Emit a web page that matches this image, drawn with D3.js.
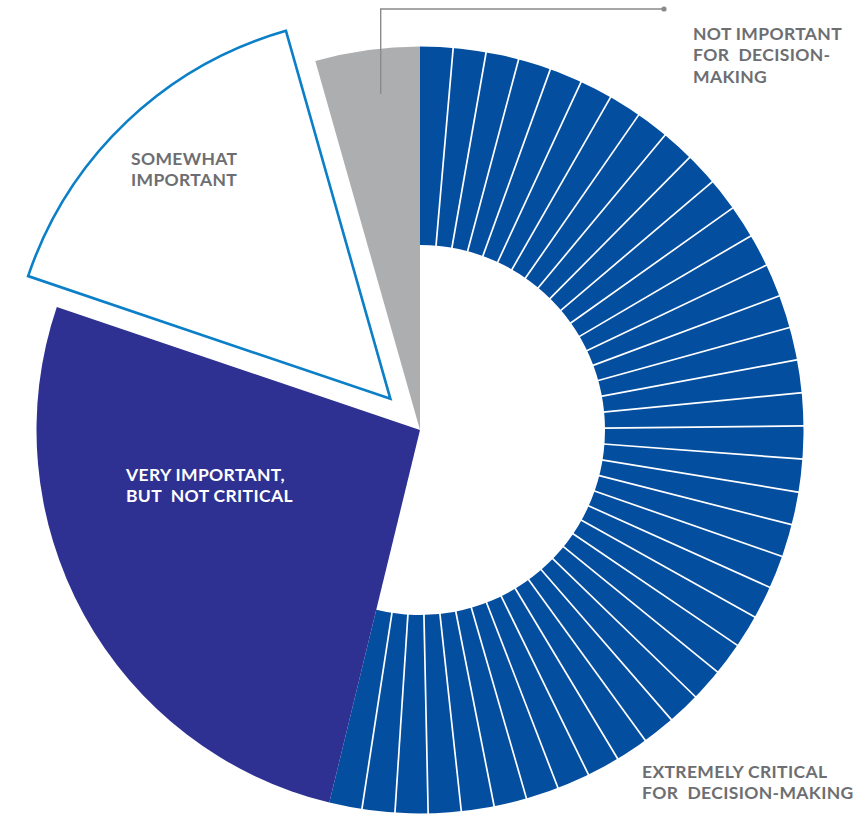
<!DOCTYPE html>
<html>
<head>
<meta charset="utf-8">
<script src="https://cdn.jsdelivr.net/npm/d3@7"></script>
<style>
  html, body { margin: 0; padding: 0; background: #fff; }
  svg { display: block; }
  text { font-family: Lato, "Open Sans", sans-serif; font-weight: 700; white-space: pre; letter-spacing: 0.35px; }
</style>
</head>
<body>
<svg id="chart" width="861" height="815"></svg>
<script>
// Survey answers: how important is the data for decision-making (share of respondents, %)
const categories = [
  "Extremely critical for decision-making",
  "Very important, but not critical",
  "Somewhat important",
  "Not important for decision-making"
];
const shares = [53.8, 26.4, 15.4, 4.4];
const labelLines = [
  ["EXTREMELY CRITICAL", "FOR  DECISION-MAKING"],
  ["VERY IMPORTANT,", "BUT  NOT CRITICAL"],
  ["SOMEWHAT", "IMPORTANT"],
  ["NOT IMPORTANT", "FOR  DECISION-", "MAKING"]
];

// Layout and styling
const cx = 420, cy = 430;
const outerR = 383.5, ringInnerR = 185;
const explode = 43;
const stripeCount = 39;
const colors = {
  critical: "#044ea0",
  very: "#2e3192",
  somewhatStroke: "#0b7fc7",
  not: "#adaeb0",
  label: "#6d6e71",
  leader: "#8a8a8c"
};

const svg = d3.select("#chart");
svg.append("rect").attr("width", 861).attr("height", 815).attr("fill", "#fff");

const data = categories.map((c, i) => ({ category: c, value: shares[i], lines: labelLines[i] }));
const pie = d3.pie().sort(null).value(d => d.value).startAngle(0).endAngle(2 * Math.PI);
const slices = pie(data);

const g = svg.append("g").attr("transform", `translate(${cx},${cy})`);

// 1. Extremely critical: ring cut into thin radial stripes
const sCrit = slices[0];
g.append("path")
  .attr("d", d3.arc().innerRadius(ringInnerR).outerRadius(outerR)(sCrit))
  .attr("fill", colors.critical);
const stripeAngle = d3.scaleLinear()
  .domain([0, stripeCount])
  .range([sCrit.startAngle, sCrit.endAngle]);
g.append("g").selectAll("line")
  .data(d3.range(1, stripeCount))
  .join("line")
  .attr("x1", k => (ringInnerR - 1) * Math.sin(stripeAngle(k)))
  .attr("y1", k => -(ringInnerR - 1) * Math.cos(stripeAngle(k)))
  .attr("x2", k => (outerR + 1) * Math.sin(stripeAngle(k)))
  .attr("y2", k => -(outerR + 1) * Math.cos(stripeAngle(k)))
  .attr("stroke", "#fff")
  .attr("stroke-width", 1.7);

// 2. Very important: solid wedge
g.append("path")
  .attr("d", d3.arc().innerRadius(0).outerRadius(outerR)(slices[1]))
  .attr("fill", colors.very);

// 3. Somewhat important: outlined wedge pulled out from the centre
const sSome = slices[2];
const midSome = (sSome.startAngle + sSome.endAngle) / 2;
g.append("path")
  .attr("transform", `translate(${explode * Math.sin(midSome)},${-explode * Math.cos(midSome)})`)
  .attr("d", d3.arc().innerRadius(0).outerRadius(outerR - 1)(sSome))
  .attr("fill", "#fff")
  .attr("stroke", colors.somewhatStroke)
  .attr("stroke-width", 2.6)
  .attr("stroke-linejoin", "miter");

// 4. Not important: grey wedge
g.append("path")
  .attr("d", d3.arc().innerRadius(0).outerRadius(outerR)(slices[3]))
  .attr("fill", colors.not);

// Leader line for the small grey wedge
svg.append("path")
  .attr("d", "M380.7,94 V9 H664")
  .attr("fill", "none")
  .attr("stroke", colors.leader)
  .attr("stroke-width", 1.4);
svg.append("circle").attr("cx", 664).attr("cy", 9).attr("r", 2.6).attr("fill", colors.leader);

// Labels
const fontSize = 17.5;
const lineGap = 21.4;
const labelPos = [
  { x: 642, y: 777.5, fill: colors.label },
  { x: 126, y: 481, fill: "#fff" },
  { x: 131, y: 164.5, fill: colors.label },
  { x: 693, y: 40, fill: colors.label }
];
data.forEach((d, i) => {
  const p = labelPos[i];
  svg.append("text")
    .attr("x", p.x).attr("y", p.y)
    .attr("fill", p.fill)
    .attr("font-size", fontSize)
    .selectAll("tspan")
    .data(d.lines)
    .join("tspan")
    .attr("x", p.x)
    .attr("y", (t, j) => p.y + j * lineGap)
    .text(t => t);
});
</script>
</body>
</html>
